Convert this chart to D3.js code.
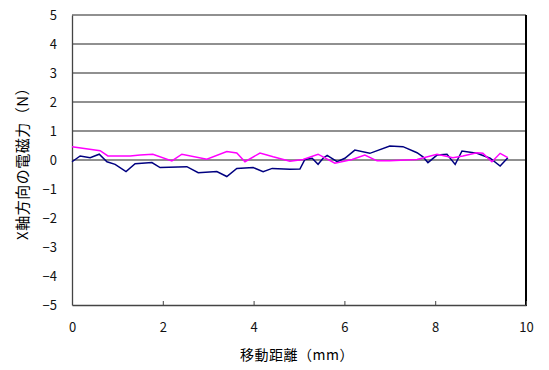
<!DOCTYPE html>
<html>
<head>
<meta charset="utf-8">
<script src="https://cdn.jsdelivr.net/npm/d3@7"></script>
<style>
  body { margin: 0; background: #fff; }
  text { font-family: "Noto Sans CJK JP", "DejaVu Sans", sans-serif; }
</style>
</head>
<body>
<div id="chart"></div>
<script>
// Movement distance (mm) and X-direction electromagnetic force (N)
const navyX = [0, 0.18, 0.4, 0.6, 0.77, 0.95, 1.19, 1.39, 1.76, 1.94, 2.53, 2.78, 3.19, 3.41, 3.63, 3.99, 4.21, 4.41, 4.8, 5.02, 5.13, 5.29, 5.42, 5.53, 5.62, 5.84, 6.01, 6.23, 6.56, 7.0, 7.29, 7.6, 7.73, 7.84, 8.04, 8.26, 8.44, 8.59, 8.92, 9.21, 9.43, 9.6];
const navyY = [-0.06, 0.14, 0.08, 0.2, -0.06, -0.15, -0.4, -0.13, -0.09, -0.26, -0.23, -0.44, -0.4, -0.57, -0.29, -0.26, -0.4, -0.29, -0.32, -0.31, 0.02, 0.06, -0.15, 0.06, 0.16, -0.06, 0.06, 0.34, 0.23, 0.48, 0.46, 0.25, 0.11, -0.09, 0.17, 0.2, -0.15, 0.31, 0.23, 0.06, -0.21, 0.08];

const pinkX = [0, 0.62, 0.79, 1.28, 1.5, 1.78, 2.2, 2.42, 2.97, 3.41, 3.63, 3.81, 4.14, 4.43, 4.8, 5.09, 5.42, 5.79, 6.17, 6.45, 6.72, 7.0, 7.6, 8.04, 8.39, 8.61, 8.92, 9.05, 9.25, 9.43, 9.6];
const pinkY = [0.46, 0.32, 0.14, 0.14, 0.17, 0.2, -0.03, 0.2, 0.03, 0.29, 0.24, -0.06, 0.24, 0.11, -0.04, 0.02, 0.2, -0.11, 0.02, 0.17, -0.03, -0.03, 0.02, 0.2, 0.08, 0.14, 0.25, 0.23, -0.06, 0.23, 0.08];

const xTicks = [0, 2, 4, 6, 8, 10];
const yTicks = [-5, -4, -3, -2, -1, 0, 1, 2, 3, 4, 5];
const gridVals = [1, 2, 3, 4, 5];

const width = 549, height = 370;
const margin = { left: 72, right: 23, top: 15, bottom: 65 };

const svg = d3.select('#chart').append('svg')
  .attr('width', width)
  .attr('height', height);

const x = d3.scaleLinear().domain([0, 10]).range([margin.left, width - margin.right]);
const y = d3.scaleLinear().domain([-5, 5]).range([height - margin.bottom, margin.top]);

// horizontal grid lines above zero
svg.append('g')
  .selectAll('line')
  .data(gridVals)
  .enter()
  .append('line')
  .attr('x1', x(0)).attr('x2', x(10))
  .attr('y1', (d) => y(d)).attr('y2', (d) => y(d))
  .style('stroke', '#222')
  .style('stroke-width', 1.2);

// zero line
svg.append('line')
  .attr('x1', x(0)).attr('x2', x(10))
  .attr('y1', y(0)).attr('y2', y(0))
  .style('stroke', '#222')
  .style('stroke-width', 1.2);

// right border
svg.append('line')
  .attr('x1', x(10)).attr('x2', x(10))
  .attr('y1', y(5)).attr('y2', y(-5) + 1)
  .style('stroke', '#000')
  .style('stroke-width', 2);

// x axis (ticks pointing up into the plot)
const xAxis = svg.append('g')
  .attr('transform', `translate(0,${y(-5)})`)
  .call(d3.axisBottom(x).tickValues(xTicks).tickSizeInner(-4).tickSizeOuter(0).tickPadding(18));
xAxis.select('.domain').style('stroke', '#444').style('stroke-width', 1.3);
xAxis.selectAll('line').style('stroke', '#444');
xAxis.selectAll('text').style('font-size', '13px').style('fill', '#111');

// y axis
const yAxis = svg.append('g')
  .attr('transform', `translate(${x(0)},0)`)
  .call(d3.axisLeft(y).tickValues(yTicks).tickSize(0).tickPadding(15));
yAxis.select('.domain').style('stroke', '#444').style('stroke-width', 1.3);
yAxis.selectAll('text').style('font-size', '13px').style('fill', '#111');

const line = d3.line().x((d) => x(d[0])).y((d) => y(d[1]));

svg.append('path')
  .datum(navyX.map((v, i) => [v, navyY[i]]))
  .attr('d', line)
  .style('fill', 'none')
  .style('stroke', '#000080')
  .style('stroke-width', 1.5);

svg.append('path')
  .datum(pinkX.map((v, i) => [v, pinkY[i]]))
  .attr('d', line)
  .style('fill', 'none')
  .style('stroke', '#ff00ff')
  .style('stroke-width', 1.5);

// axis titles
svg.append('text')
  .attr('x', 297)
  .attr('y', 360)
  .attr('text-anchor', 'middle')
  .style('font-size', '14px')
  .style('letter-spacing', '0.5px')
  .text('移動距離（mm）');

svg.append('text')
  .attr('transform', `translate(28,${y(0)}) rotate(-90)`)
  .attr('text-anchor', 'middle')
  .style('font-size', '15px')
  .style('letter-spacing', '0.5px')
  .text('X軸方向の電磁力（N）');
</script>
</body>
</html>
